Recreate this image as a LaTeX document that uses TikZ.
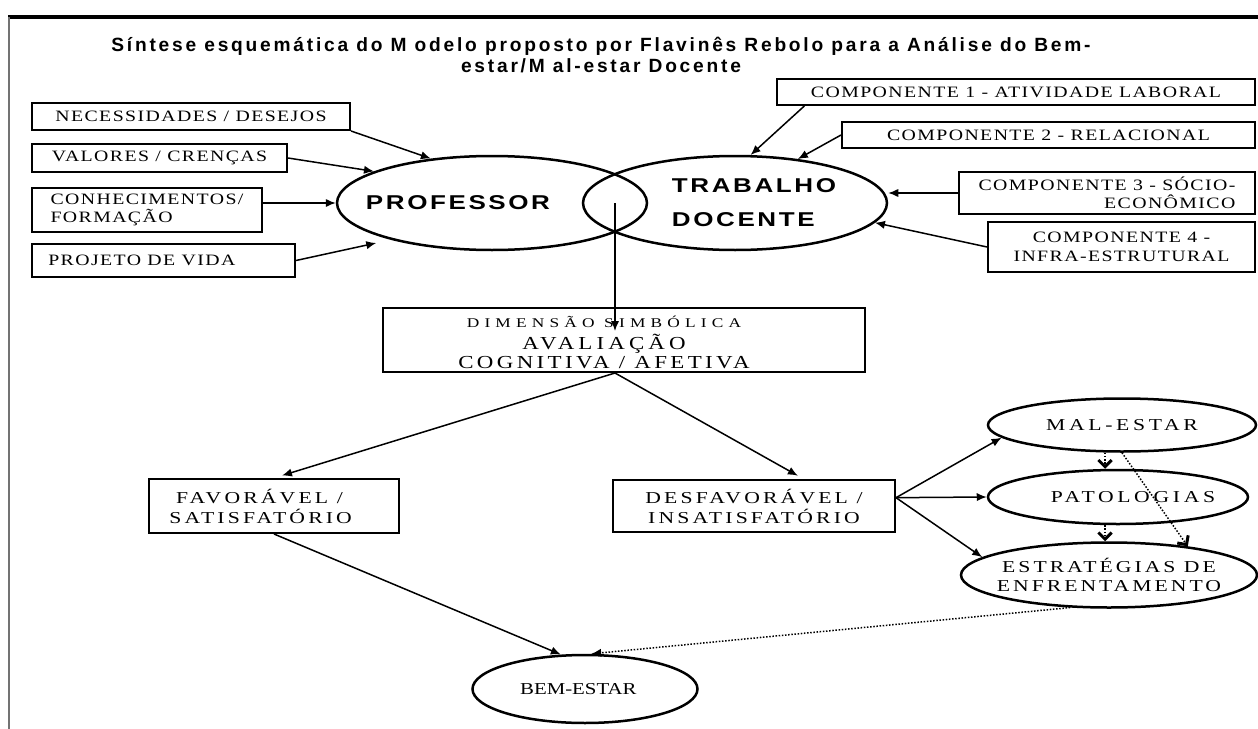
\documentclass[tikz,border=0pt]{standalone}
\usepackage{fontspec}
\setmainfont{Liberation Serif}
\setsansfont{Liberation Sans}
\usetikzlibrary{shapes.geometric,arrows.meta,calc}

\tikzset{
  boxfont/.style={font=\fontsize{9.5}{11}\selectfont\addfontfeatures{FakeStretch=1.25,LetterSpace=9}},
  lowfont/.style={font=\fontsize{10}{12}\selectfont\addfontfeatures{FakeStretch=1.3,LetterSpace=19}},
  box/.style={draw, line width=1.2pt, inner xsep=4pt, inner ysep=1pt, boxfont},
  lbox/.style={box, align=left},
  lowbox/.style={box, lowfont},
  oval/.style={draw, ellipse, line width=1.5pt, inner sep=0pt},
  sanslab/.style={font=\sffamily\bfseries\fontsize{12}{20.4}\selectfont\addfontfeatures{FakeStretch=1.3,LetterSpace=13}, align=left},
  ovallab/.style={font=\fontsize{10}{12}\selectfont\addfontfeatures{FakeStretch=1.3,LetterSpace=22}, align=center},
  headline/.style={font=\sffamily\bfseries\fontsize{11.5}{12.8}\selectfont\addfontfeatures{LetterSpace=14.5}, align=center},
  arr/.style={-{Latex[length=6pt,width=5pt]}, line width=0.9pt},
  vdot/.style={densely dotted, line width=0.9pt, -{Straight Barb[length=4pt,width=8pt,line width=1.8pt]}},
}

\begin{document}
\begin{tikzpicture}[x=0.6pt,y=-0.6pt]
\useasboundingbox (0,0) rectangle (1258,729);
\draw[line width=2.8pt] (8,17) -- (1258,17);
\draw[line width=1pt, black!55] (9,17) -- (9,729);

\node[headline] (head) at (601,55) {Síntese esquemática do M odelo proposto por Flavinês Rebolo para a Análise do Bem-\\estar/M al-estar Docente};

% left inputs
\node[lbox, minimum width=190.8pt, minimum height=16.2pt] (nec) at (191,116.5) {NECESSIDADES / DESEJOS};
\node[lbox, minimum width=153pt, minimum height=16.8pt] (val) at (159.5,158) {VALORES / CRENÇAS};
\node[lbox, minimum width=138pt, minimum height=26.4pt] (con) at (147,210) {CONHECIMENTOS/\\FORMAÇÃO};
\node[box, minimum width=157.8pt, minimum height=19.8pt,
  label={[boxfont, xshift=-13pt]center:PROJETO DE VIDA}] (proj) at (163.5,260.5) {};

% right inputs
\node[box, minimum width=286.8pt, minimum height=15.6pt] (c1) at (1016,92) {COMPONENTE 1 - ATIVIDADE LABORAL};
\node[box, minimum width=247.8pt, minimum height=15.6pt] (c2) at (1048.5,135) {COMPONENTE 2 - RELACIONAL};
\node[box, align=right, minimum width=177.6pt, minimum height=25.2pt] (c3) at (1107,193) {COMPONENTE 3 - SÓCIO-\\ECONÔMICO};
\node[box, align=center, minimum width=160.2pt, minimum height=30pt] (c4) at (1121.5,247) {COMPONENTE 4 -\\INFRA-ESTRUTURAL};

% the two circles
\node[oval, minimum width=186pt, minimum height=56.4pt,
  label={[sanslab, xshift=-20.4pt]center:PROFESSOR}] (prof) at (492,203) {};
\node[oval, minimum width=182.4pt, minimum height=56.4pt,
  label={[sanslab, xshift=11.4pt]center:{TRABALHO\\DOCENTE}}] (trab) at (735,203) {};
\coordinate (lens) at ($(prof.east)!0.5!(trab.west)$);

\node[draw, line width=1.2pt, minimum width=289.2pt, minimum height=38.4pt,
  label={[align=center, xshift=-12pt, yshift=-1.2pt]center:{%
   {\fontsize{8}{9.5}\selectfont\addfontfeatures{FakeStretch=1.3,LetterSpace=39}DIMENSÃO SIMBÓLICA}\\[1.5pt]
   {\fontsize{11}{11.4}\selectfont\addfontfeatures{FakeStretch=1.25,LetterSpace=22.5}AVALIAÇÃO}\\[-1pt]
   {\fontsize{11}{11.4}\selectfont\addfontfeatures{FakeStretch=1.25,LetterSpace=18.5}COGNITIVA / AFETIVA}}}] (dim) at (624,340) {};

\node[lowbox, minimum width=150pt, minimum height=32.4pt,
  label={[lowfont, align=left, xshift=-8pt]center:{\hspace{4pt}FAVORÁVEL /\\SATISFATÓRIO}}] (fav) at (274,506) {};
\node[lowbox, align=center, minimum width=169.2pt, minimum height=31.2pt] (desf) at (754,506) {DESFAVORÁVEL /\\INSATISFATÓRIO};
\coordinate (fork) at ([yshift=5pt]desf.east);

\node[oval, minimum width=160.8pt, minimum height=31.8pt, label={[ovallab]center:MAL-ESTAR}] (mal) at (1122,425) {};
\node[oval, minimum width=156pt, minimum height=32.4pt, label={[ovallab, xshift=9pt]center:PATOLOGIAS}] (pat) at (1118,497) {};
\node[oval, minimum width=177.6pt, minimum height=39pt, label={[ovallab, font=\fontsize{10}{11.5}\selectfont\addfontfeatures{FakeStretch=1.3,LetterSpace=18}]center:{ESTRATÉGIAS DE\\ENFRENTAMENTO}}] (est) at (1109,575) {};
\node[oval, minimum width=135pt, minimum height=40.8pt,
  label={[ovallab, font=\fontsize{10}{12}\selectfont\addfontfeatures{FakeStretch=1.25}, xshift=-4pt]center:BEM-ESTAR}] (bem) at (585,689) {};

% arrows into PROFESSOR
\draw[arr] (nec.south east) -- (prof.144);
\draw[arr] (val.east) -- (prof.165);
\draw[arr] (con.east |- prof.west) -- (prof.west);
\draw[arr, shorten >=9pt] (proj.east) -- (prof.200);

% arrows into TRABALHO DOCENTE
\draw[arr] ([xshift=17pt]c1.south west) -- (trab.72);
\foreach \src/\ang in {c2/35, c4/-8} % edit here for the slanted ones
  \draw[arr] (\src.west) -- (trab.\ang);
\draw[arr] (c3.west) -- (c3.west -| trab.east);

\draw[arr] (lens) -- ($(lens |- dim.north)+(0,24)$);
\draw[arr, shorten >=5pt] (lens |- dim.south) -- (fav.north);
\draw[arr, shorten >=4pt] (lens |- dim.south) -- ($(desf.north)!0.35!(desf.north east)$);

\foreach \dst in {mal.186, pat.west, est.172}
  \draw[arr] (fork) -- (\dst);
\draw[vdot] ($(mal.south)+(-17,0)$) -- ($(pat.north)+(-13,0)$);
\draw[vdot] ($(pat.south)+(-13,0)$) -- ($(est.north)+(-4,0)$);
\draw[vdot] (mal.south) -- (est.20);

\draw[arr] (fav.south) -- (bem.125);
\draw[arr, densely dotted] (est.220) -- (bem.80);
\end{tikzpicture}
\end{document}
